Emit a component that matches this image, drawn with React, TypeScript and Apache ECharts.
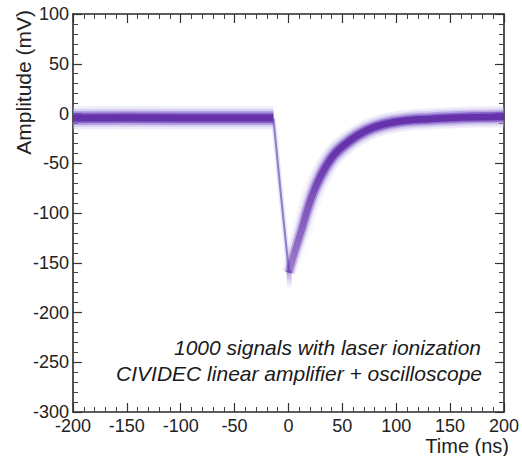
import React, { useEffect, useRef } from "react";
import * as echarts from "echarts";

// Values (time in ns, amplitude in mV)
const baselineTime = [-200, -150, -100, -50, -14];
const baselineAmp = [-4.5, -4.3, -4.5, -4.4, -4.6];

const fallingTime = [-14, -7, 0.5];
const fallingAmp = [-5, -82, -160];

const tipTime = [0.5, 0.9];
const tipAmp = [-158, -177];

const recoveryTime = [0.5, 5, 11.3, 20.5, 29.6, 41.9, 57.2, 72.5, 87.8, 109, 130, 160, 200];
const recoveryAmp = [-160, -142, -120, -87, -63.5, -42, -27, -17, -11, -7, -5.5, -4, -3.2];

const xTickLabels = ["-200", "-150", "-100", "-50", "0", "50", "100", "150", "200"];
const yTickLabels = ["-300", "-250", "-200", "-150", "-100", "-50", "0", "50", "100"];

const annotation = [
  "1000 signals with laser ionization",
  "CIVIDEC linear amplifier + oscilloscope",
];

const FONT = "'Liberation Sans', Arial, Helvetica, sans-serif";

function zip(t: number[], a: number[]) {
  return t.map((x, i) => [x, a[i]]);
}

const LAYERS = [
  { w: 23, c: "200,192,235", o: 0.3, fade: 0.03 },
  { w: 18, c: "170,150,225", o: 0.32, fade: 0.08 },
  { w: 14, c: "135,100,205", o: 0.42, fade: 0.25 },
  { w: 10.5, c: "105,60,185", o: 0.6, fade: 0.45 },
  { w: 7, c: "88,30,158", o: 0.72, fade: 0.55 },
];

// layered strokes from wide/faint to narrow/dense to imitate a density band
function band(t: number[], a: number[], smooth: number, graded: boolean) {
  return LAYERS.map((L, i) => {
    const color = graded
      ? new echarts.graphic.LinearGradient(0, 0, 0, 1, [
          { offset: 0, color: `rgba(${L.c},${L.o})` },
          { offset: 0.2, color: `rgba(${L.c},${L.o})` },
          { offset: 0.5, color: `rgba(${L.c},${(L.o * (0.45 + L.fade * 0.55)).toFixed(3)})` },
          { offset: 1, color: `rgba(${L.c},${(L.o * L.fade).toFixed(3)})` },
        ])
      : `rgba(${L.c},${L.o})`;
    return {
      type: "line",
      data: zip(t, a),
      showSymbol: false,
      symbol: "none",
      smooth,
      silent: true,
      clip: true,
      z: 2 + i,
      lineStyle: { width: graded ? L.w * 0.92 : L.w, color, cap: "butt", join: "round" },
    };
  });
}

export default function App() {
  const ref = useRef<HTMLDivElement>(null);
  useEffect(() => {
    if (!ref.current) return;
    const chart = echarts.init(ref.current, undefined, { renderer: "svg" });
    const xMin = Number(xTickLabels[0]);
    const xMax = Number(xTickLabels[xTickLabels.length - 1]);
    const yMin = Number(yTickLabels[0]);
    const yMax = Number(yTickLabels[yTickLabels.length - 1]);
    const axisLine = { show: true, onZero: false, lineStyle: { color: "#2a2a2a", width: 1.6 } };
    const tick = { show: true, inside: true, length: 9, lineStyle: { color: "#333", width: 1.2 } };
    const minor = { show: true, splitNumber: 5, length: 5, lineStyle: { color: "#444", width: 1 } };
    const label = { fontFamily: FONT, fontSize: 18, color: "#222" };

    const series: any[] = [
      ...band(baselineTime, baselineAmp, 0, false),
      {
        type: "line",
        data: zip(fallingTime, fallingAmp),
        showSymbol: false,
        symbol: "none",
        silent: true,
        z: 2,
        lineStyle: { width: 5, color: "rgba(185,175,230,0.35)", cap: "butt" },
      },
      {
        type: "line",
        data: zip(fallingTime, fallingAmp),
        showSymbol: false,
        symbol: "none",
        silent: true,
        z: 3,
        lineStyle: { width: 2, color: "rgba(105,80,190,0.7)", cap: "butt" },
      },
      {
        type: "line",
        data: zip(tipTime, tipAmp),
        showSymbol: false,
        symbol: "none",
        silent: true,
        z: 3,
        lineStyle: {
          width: 5,
          cap: "butt",
          color: new echarts.graphic.LinearGradient(0, 0, 0, 1, [
            { offset: 0, color: "rgba(110,80,190,0.6)" },
            { offset: 1, color: "rgba(170,150,225,0.0)" },
          ]),
        },
      },
      ...band(recoveryTime, recoveryAmp, 0.4, true),
    ];

    chart.setOption({
      animation: false,
      backgroundColor: "#ffffff",
      grid: { left: 73, right: 13, top: 14, bottom: 44, containLabel: false },
      xAxis: [
        {
          type: "value",
          position: "bottom",
          min: xMin,
          max: xMax,
          interval: 50,
          axisLine,
          axisTick: tick,
          minorTick: minor,
          splitLine: { show: false },
          axisLabel: { ...label, margin: 5, formatter: (v: number) => String(v) },
        },
        {
          type: "value",
          position: "top",
          min: xMin,
          max: xMax,
          interval: 50,
          axisLine,
          axisTick: tick,
          minorTick: minor,
          splitLine: { show: false },
          axisLabel: { show: false },
        },
      ],
      yAxis: [
        {
          type: "value",
          position: "left",
          min: yMin,
          max: yMax,
          interval: 50,
          axisLine,
          axisTick: tick,
          minorTick: minor,
          splitLine: { show: false },
          axisLabel: { ...label, margin: 4, formatter: (v: number) => String(v) },
        },
        {
          type: "value",
          position: "right",
          min: yMin,
          max: yMax,
          interval: 50,
          axisLine,
          axisTick: tick,
          minorTick: minor,
          splitLine: { show: false },
          axisLabel: { show: false },
        },
      ],
      graphic: [
        {
          type: "text",
          x: 509,
          y: 446,
          style: {
            text: "Time (ns)",
            fontFamily: FONT,
            fontSize: 20,
            fill: "#222",
            align: "right",
            verticalAlign: "middle",
          },
        },
        {
          type: "text",
          x: 23,
          y: 10,
          rotation: Math.PI / 2,
          style: {
            text: "Amplitude (mV)",
            fontFamily: FONT,
            fontSize: 21,
            fill: "#222",
            align: "right",
            verticalAlign: "middle",
          },
        },
        {
          type: "text",
          x: 481,
          y: 347,
          style: {
            text: annotation[0],
            fontFamily: FONT,
            fontSize: 21,
            fontStyle: "italic",
            fill: "#1a1a1a",
            align: "right",
            verticalAlign: "middle",
          },
        },
        {
          type: "text",
          x: 482,
          y: 373,
          style: {
            text: annotation[1],
            fontFamily: FONT,
            fontSize: 21,
            fontStyle: "italic",
            fill: "#1a1a1a",
            align: "right",
            verticalAlign: "middle",
          },
        },
      ],
      series,
    });
    return () => chart.dispose();
  }, []);
  return (
    <div
      ref={ref}
      style={{ position: "fixed", left: 0, top: 0, width: 522, height: 456 }}
    />
  );
}
